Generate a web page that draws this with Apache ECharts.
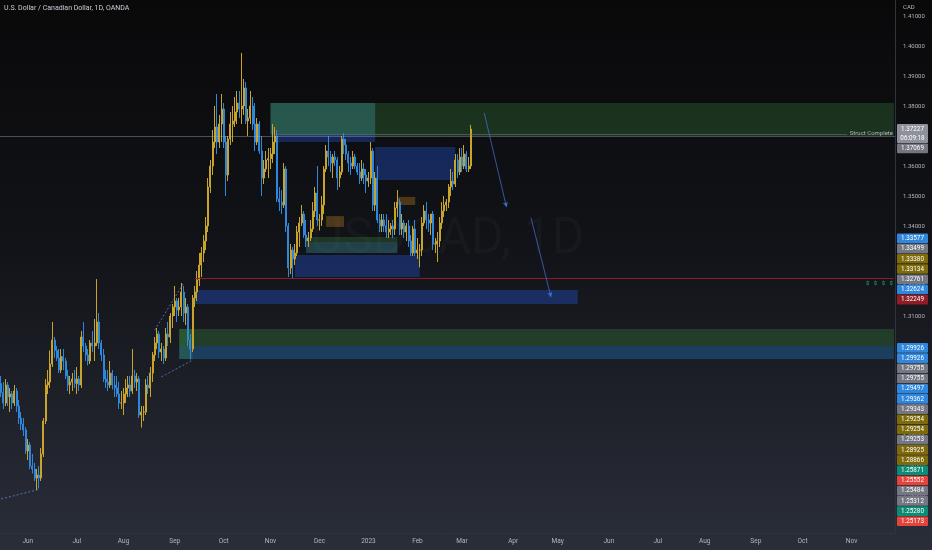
<!DOCTYPE html>
<html><head><meta charset="utf-8">
<script src="https://cdn.jsdelivr.net/npm/echarts@6/dist/echarts.min.js"></script>
<style>html,body{margin:0;padding:0;background:#0a0a0b;}#c{width:932px;height:550px;}</style>
</head><body><div id="c"></div>
<script>
// ---------- data (USD/CAD daily, OANDA) ----------
const firstDay = '2022-05-16';
const lastDay = '2023-11-28';
const open = [1.2875,1.2845,1.2810,1.2870,1.2830,1.2840,1.2810,1.2850,1.2800,1.2760,1.2740,1.2720,1.2650,1.2670,1.2600,1.2590,1.2560,1.2570,1.2560,1.2640,
1.2750,1.2870,1.2880,1.2940,1.3020,1.2985,1.2960,1.2920,1.2965,1.2950,1.2900,1.2870,1.2880,1.2890,1.2875,1.2890,1.2870,1.3030,1.3000,1.2970,
1.2950,1.3010,1.3000,1.3010,1.3080,1.3010,1.2970,1.2890,1.2880,1.2870,1.2910,1.2870,1.2860,1.2840,1.2810,1.2810,1.2840,1.2860,1.2870,1.2850,
1.2900,1.2880,1.2890,1.2770,1.2780,1.2780,1.2870,1.2860,1.2910,1.2970,1.3010,1.3040,1.2980,1.2990,1.2960,1.3040,1.3030,1.3100,1.3130,1.3150,
1.3120,1.3130,1.3180,1.3110,1.3130,1.3020,1.2990,1.3160,1.3180,1.3220,1.3270,1.3310,1.3350,1.3400,1.3530,1.3600,1.3680,1.3730,1.3680,1.3740,
1.3790,1.3680,1.3570,1.3690,1.3740,1.3750,1.3780,1.3810,1.3790,1.3800,1.3860,1.3750,1.3760,1.3800,1.3740,1.3680,1.3740,1.3650,1.3560,1.3590,
1.3620,1.3625,1.3640,1.3680,1.3700,1.3490,1.3480,1.3470,1.3590,1.3400,1.3260,1.3320,1.3290,1.3310,1.3380,1.3410,1.3440,1.3370,1.3350,1.3360,
1.3390,1.3450,1.3510,1.3420,1.3420,1.3470,1.3590,1.3650,1.3630,1.3610,1.3630,1.3620,1.3560,1.3580,1.3690,1.3670,1.3640,1.3610,1.3600,1.3630,
1.3600,1.3580,1.3560,1.3590,1.3570,1.3550,1.3560,1.3650,1.3470,1.3560,1.3420,1.3400,1.3420,1.3400,1.3380,1.3390,1.3400,1.3390,1.3460,1.3480,
1.3390,1.3410,1.3380,1.3400,1.3350,1.3310,1.3390,1.3310,1.3320,1.3320,1.3410,1.3450,1.3420,1.3410,1.3440,1.3340,1.3340,1.3350,1.3410,1.3450,
1.3470,1.3480,1.3530,1.3550,1.3540,1.3620,1.3580,1.3630,1.3600,1.3640,1.3590,1.3600];
const high = [1.2900,1.2880,1.2890,1.2880,1.2860,1.2850,1.2870,1.2860,1.2820,1.2780,1.2760,1.2730,1.2690,1.2680,1.2640,1.2610,1.2590,1.2600,1.2660,1.2760,
1.2890,1.2920,1.2985,1.3080,1.3030,1.3000,1.2990,1.2990,1.2990,1.2960,1.2920,1.2900,1.2910,1.2920,1.2930,1.2900,1.3050,1.3080,1.3010,1.2990,
1.3020,1.3050,1.3090,1.3223,1.3110,1.3020,1.2990,1.2920,1.2920,1.2950,1.2920,1.2900,1.2900,1.2880,1.2850,1.2860,1.2890,1.2900,1.2900,1.2990,
1.2920,1.2910,1.2900,1.2800,1.2800,1.2890,1.2900,1.2930,1.2980,1.3030,1.3060,1.3050,1.3010,1.3000,1.3060,1.3080,1.3110,1.3140,1.3200,1.3160,
1.3160,1.3210,1.3200,1.3160,1.3140,1.3040,1.3170,1.3200,1.3250,1.3310,1.3330,1.3370,1.3430,1.3560,1.3620,1.3720,1.3800,1.3840,1.3770,1.3840,
1.3810,1.3700,1.3700,1.3780,1.3800,1.3830,1.3850,1.3850,1.3977,1.3890,1.3880,1.3790,1.3850,1.3830,1.3810,1.3760,1.3750,1.3700,1.3620,1.3650,
1.3660,1.3660,1.3740,1.3730,1.3720,1.3530,1.3520,1.3610,1.3600,1.3410,1.3340,1.3330,1.3340,1.3400,1.3430,1.3470,1.3450,1.3420,1.3380,1.3420,
1.3480,1.3530,1.3600,1.3440,1.3500,1.3600,1.3670,1.3700,1.3650,1.3640,1.3650,1.3630,1.3600,1.3700,1.3710,1.3690,1.3650,1.3630,1.3650,1.3640,
1.3610,1.3610,1.3620,1.3610,1.3590,1.3580,1.3680,1.3660,1.3580,1.3600,1.3440,1.3440,1.3440,1.3440,1.3420,1.3410,1.3420,1.3480,1.3520,1.3490,
1.3440,1.3420,1.3410,1.3420,1.3370,1.3400,1.3420,1.3360,1.3340,1.3430,1.3470,1.3480,1.3440,1.3440,1.3450,1.3360,1.3380,1.3430,1.3480,1.3500,
1.3490,1.3540,1.3590,1.3580,1.3640,1.3640,1.3660,1.3660,1.3670,1.3650,1.3630,1.3737];
const low = [1.2830,1.2790,1.2800,1.2800,1.2780,1.2790,1.2800,1.2780,1.2740,1.2720,1.2700,1.2640,1.2620,1.2590,1.2575,1.2550,1.2520,1.2525,1.2550,1.2630,
1.2740,1.2840,1.2860,1.2930,1.2960,1.2950,1.2910,1.2910,1.2920,1.2890,1.2850,1.2840,1.2850,1.2860,1.2840,1.2850,1.2860,1.2980,1.2950,1.2935,
1.2940,1.2980,1.2950,1.3000,1.2990,1.2950,1.2880,1.2860,1.2850,1.2860,1.2855,1.2830,1.2830,1.2790,1.2790,1.2770,1.2810,1.2830,1.2830,1.2840,
1.2860,1.2850,1.2760,1.2728,1.2750,1.2770,1.2840,1.2830,1.2880,1.2950,1.2990,1.2960,1.2950,1.2940,1.2950,1.3000,1.3010,1.3060,1.3100,1.3080,
1.3100,1.3100,1.3080,1.3070,1.3000,1.2955,1.2980,1.3130,1.3150,1.3200,1.3230,1.3280,1.3320,1.3380,1.3510,1.3570,1.3660,1.3640,1.3660,1.3680,
1.3660,1.3500,1.3550,1.3670,1.3680,1.3730,1.3740,1.3760,1.3740,1.3770,1.3740,1.3700,1.3740,1.3720,1.3650,1.3670,1.3640,1.3500,1.3540,1.3580,
1.3560,1.3590,1.3610,1.3640,1.3480,1.3450,1.3440,1.3460,1.3380,1.3230,1.3240,1.3226,1.3270,1.3300,1.3330,1.3400,1.3360,1.3330,1.3330,1.3350,
1.3380,1.3430,1.3400,1.3385,1.3400,1.3440,1.3580,1.3600,1.3580,1.3560,1.3600,1.3520,1.3530,1.3570,1.3640,1.3620,1.3580,1.3570,1.3590,1.3590,
1.3570,1.3540,1.3550,1.3540,1.3510,1.3530,1.3540,1.3450,1.3450,1.3410,1.3380,1.3380,1.3380,1.3360,1.3360,1.3370,1.3360,1.3370,1.3430,1.3370,
1.3370,1.3360,1.3350,1.3330,1.3300,1.3300,1.3300,1.3290,1.3262,1.3300,1.3400,1.3390,1.3380,1.3370,1.3320,1.3310,1.3280,1.3330,1.3390,1.3430,
1.3450,1.3460,1.3500,1.3520,1.3530,1.3560,1.3570,1.3580,1.3590,1.3580,1.3580,1.3590];
const close = [1.2845,1.2810,1.2870,1.2830,1.2840,1.2810,1.2850,1.2800,1.2760,1.2740,1.2720,1.2650,1.2670,1.2600,1.2590,1.2560,1.2570,1.2560,1.2640,1.2750,
1.2870,1.2880,1.2940,1.3020,1.2985,1.2960,1.2920,1.2965,1.2950,1.2900,1.2870,1.2880,1.2890,1.2875,1.2890,1.2870,1.3030,1.3000,1.2970,1.2950,
1.3010,1.3000,1.3010,1.3080,1.3010,1.2970,1.2890,1.2880,1.2870,1.2910,1.2870,1.2860,1.2840,1.2810,1.2810,1.2840,1.2860,1.2870,1.2850,1.2900,
1.2880,1.2890,1.2770,1.2780,1.2780,1.2870,1.2860,1.2910,1.2970,1.3010,1.3040,1.2980,1.2990,1.2960,1.3040,1.3030,1.3100,1.3130,1.3150,1.3120,
1.3130,1.3180,1.3110,1.3130,1.3020,1.2990,1.3160,1.3180,1.3220,1.3270,1.3310,1.3350,1.3400,1.3530,1.3600,1.3680,1.3730,1.3680,1.3740,1.3790,
1.3680,1.3570,1.3690,1.3740,1.3750,1.3780,1.3810,1.3790,1.3800,1.3860,1.3750,1.3760,1.3800,1.3740,1.3680,1.3740,1.3650,1.3560,1.3590,1.3620,
1.3625,1.3640,1.3680,1.3700,1.3490,1.3480,1.3470,1.3590,1.3400,1.3260,1.3320,1.3290,1.3310,1.3380,1.3410,1.3440,1.3370,1.3350,1.3360,1.3390,
1.3450,1.3510,1.3420,1.3420,1.3470,1.3590,1.3650,1.3630,1.3610,1.3630,1.3620,1.3560,1.3580,1.3690,1.3670,1.3640,1.3610,1.3600,1.3630,1.3600,
1.3580,1.3560,1.3590,1.3570,1.3550,1.3560,1.3650,1.3470,1.3560,1.3420,1.3400,1.3420,1.3400,1.3380,1.3390,1.3400,1.3390,1.3460,1.3480,1.3390,
1.3410,1.3380,1.3400,1.3350,1.3310,1.3390,1.3310,1.3320,1.3320,1.3410,1.3450,1.3420,1.3410,1.3440,1.3340,1.3340,1.3350,1.3410,1.3450,1.3470,
1.3480,1.3530,1.3550,1.3540,1.3620,1.3580,1.3630,1.3600,1.3640,1.3590,1.3600,1.3723];
const priceTicks = [1.25,1.26,1.27,1.28,1.29,1.30,1.31,1.32,1.33,1.34,1.35,1.36,1.37,1.38,1.39,1.40,1.41];
const lastPrice = 1.37227;
const structPrice = 1.37069;
const redLevel = 1.32249;
const tagValues = [1.37227,1.37069,1.33577,1.33499,1.33380,1.33134,1.32761,1.32624,1.32249,1.29926,1.29926,1.29755,1.29755,1.29497,1.29362,1.29343,1.29254,1.29254,1.29253,1.28925,1.28866,1.25871,1.25552,1.25484,1.25312,1.25280,1.25173];
const tagKinds = ['last','grey','blue','grey','gold','gold','grey','blue','darkred','blue','blue','grey','grey','blue','blue','grey','gold','gold','grey','gold','gold','teal','red','grey','grey','teal','red'];
const monthNames = ['Jan','Feb','Mar','Apr','May','Jun','Jul','Aug','Sep','Oct','Nov','Dec'];
// drawings (zones) in date/price space
const zones = [
  ['2022-11-01', 'END', 1.3810, 1.3700, 'green'],
  ['2022-11-01', '2023-01-05', 1.3810, 1.3707, 'cyan'],
  ['2022-11-04', '2023-01-05', 1.3707, 1.3680, 'blue'],
  ['2023-01-05', '2023-02-24', 1.3663, 1.3553, 'blue'],
  ['2022-11-16', '2023-02-02', 1.3303, 1.3230, 'blue'],
  ['2022-11-23', '2023-01-19', 1.3363, 1.3347, 'green'],
  ['2022-11-23', '2023-01-19', 1.3347, 1.3310, 'cyan'],
  ['2022-12-06', '2022-12-16', 1.3433, 1.3397, 'orange'],
  ['2023-01-19', '2023-01-31', 1.3497, 1.3470, 'orange'],
  ['2022-09-14', '2023-05-12', 1.3187, 1.3140, 'blue'],
  ['2022-09-05', 'END', 1.3057, 1.3000, 'green'],
  ['2022-09-05', 'END', 1.3000, 1.2957, 'steel'],
  ['2022-09-05', '2022-09-13', 1.3057, 1.2957, 'green']
];
const arrows = [
  ['2023-03-15', 1.3777, '2023-03-29', 1.3463],
  ['2023-04-13', 1.3427, '2023-04-26', 1.3163]
];
const dashes = [
  ['2022-05-16', 1.2490, '2022-06-08', 1.2522],
  ['2022-08-24', 1.2897, '2022-09-13', 1.2953],
  ['2022-08-19', 1.3053, '2022-09-07', 1.3210]
];

// ---------- build ----------
function weekdays(a, b) {
  const out = []; const d = new Date(a + 'T00:00:00Z'); const e = new Date(b + 'T00:00:00Z');
  while (d <= e) { const w = d.getUTCDay(); if (w !== 0 && w !== 6) out.push(d.toISOString().slice(0, 10)); d.setUTCDate(d.getUTCDate() + 1); }
  return out;
}
const dates = weekdays(firstDay, lastDay);
const END = dates[dates.length - 1];
const candles = open.map((o, i) => [o, close[i], low[i], high[i]]);

const zoneColors = {
  green: 'rgba(67,160,71,0.26)',
  cyan: 'rgba(77,182,200,0.28)',
  blue: 'rgba(41,98,255,0.30)',
  orange: 'rgba(255,167,38,0.26)',
  steel: 'rgba(33,150,243,0.28)'
};
const tagColors = { last: '#8e9199', grey: '#747781', blue: '#2f86dc', gold: '#7e6a0b', darkred: '#8f1d26', teal: '#0c8b76', red: '#e2433a' };

const chart = echarts.init(document.getElementById('c'), null, { renderer: 'canvas', width: 932, height: 550 });
const FONT = 'Roboto, "Noto Sans", sans-serif';

const option = {
  animation: false,
  backgroundColor: { type: 'linear', x: 0, y: 0, x2: 0, y2: 1, colorStops: [
    { offset: 0, color: '#09090a' }, { offset: 0.45, color: '#121318' }, { offset: 1, color: '#2a2e39' }] },
  grid: { left: 0, right: 37, top: 0, bottom: 17 },
  xAxis: {
    type: 'category', data: dates, boundaryGap: true,
    axisLine: { show: true, lineStyle: { color: '#30343f' } },
    axisTick: { show: false },
    splitLine: { show: false },
    axisLabel: {
      color: '#b2b5be', fontSize: 6.5, fontFamily: FONT, margin: 5,
      interval: (i, v) => i > 0 && v.slice(0, 7) !== dates[i - 1].slice(0, 7),
      formatter: v => { const m = +v.slice(5, 7); return m === 1 ? v.slice(0, 4) : monthNames[m - 1]; }
    }
  },
  yAxis: {
    type: 'value', position: 'right',
    min: 1.30 - 187 / 3000, max: 1.30 + 346 / 3000,
    axisLine: { show: true, lineStyle: { color: '#30343f' } },
    axisTick: { show: false },
    splitLine: { show: false },
    axisLabel: { color: '#b2b5be', fontSize: 6, fontFamily: FONT, margin: 8, customValues: priceTicks, formatter: v => v.toFixed(5) }
  },
  series: [
    {
      type: 'line', data: [], silent: true, z: 1,
      markArea: { silent: true, data: zones.map(z => [
        { xAxis: z[0] === 'END' ? END : z[0], yAxis: z[2], itemStyle: { color: zoneColors[z[4]] } },
        { xAxis: z[1] === 'END' ? END : z[1], yAxis: z[3] }]) }
    },
    {
      type: 'candlestick', data: candles, barWidth: 1.5, z: 2,
      itemStyle: { color: '#c9a42b', color0: '#2e87da', borderColor: '#c9a42b', borderColor0: '#2e87da', borderWidth: 1 }
    },
    {
      type: 'line', data: [], silent: true, z: 3,
      markLine: {
        silent: true, symbol: 'none', label: { show: false },
        data: [
          { yAxis: lastPrice, lineStyle: { color: 'rgba(170,172,180,0.40)', width: 1, type: 'solid' } },
          [{ coord: ['2022-11-02', structPrice], lineStyle: { color: 'rgba(120,123,134,0.50)', width: 1, type: 'solid' } },
           { coord: [dates[dates.length - 22], structPrice] }],
          [{ coord: ['2022-09-14', redLevel], lineStyle: { color: 'rgba(150,30,45,0.9)', width: 1, type: 'solid' } }, { coord: [END, redLevel] }],
          ...arrows.map(a => [
            { coord: [a[0], a[1]], symbol: 'none', lineStyle: { color: 'rgba(70,120,225,0.85)', width: 0.8, type: 'solid' } },
            { coord: [a[2], a[3]], symbol: 'arrow', symbolSize: [4, 5] }]),
          ...dashes.map(d => [
            { coord: [d[0], d[1]], lineStyle: { color: 'rgba(110,140,240,0.7)', width: 1, type: [2, 2] } },
            { coord: [d[2], d[3]] }])
        ]
      }
    }
  ]
};
chart.setOption(option);

// ---------- overlay: tags, texts ----------
const py = v => chart.convertToPixel({ yAxisIndex: 0 }, v);
const plotRight = 932 - 37;
const g = [];
g.push({ type: 'text', z: 0, silent: true, style: { text: 'USDCAD, 1D', x: plotRight / 2, y: 240, align: 'center', verticalAlign: 'middle',
  fill: 'rgba(150,155,170,0.045)', fontSize: 50, fontFamily: FONT } });
g.push({ type: 'rect', z: 90, shape: { x: plotRight + 1, y: 0, width: 36, height: 12 }, style: { fill: '#09090a' } });
g.push({ type: 'text', z: 91, style: { text: 'CAD', x: plotRight + 8, y: 7, verticalAlign: 'middle', fill: '#b2b5be', fontSize: 6, fontFamily: FONT } });
g.push({ type: 'text', z: 91, style: { text: 'U.S. Dollar / Canadian Dollar, 1D, OANDA', x: 4, y: 8, verticalAlign: 'middle', fill: '#c9ccd4', fontSize: 7, fontFamily: FONT } });
g.push({ type: 'text', z: 91, style: { text: 'Struct Complete', x: plotRight - 2, y: py(structPrice) - 0.5, align: 'right', verticalAlign: 'middle', fill: '#b2b5be', fontSize: 6, fontFamily: FONT } });
g.push({ type: 'text', z: 91, style: { text: '$   $   $   $', x: plotRight - 29, y: py(1.3207), verticalAlign: 'middle', fill: '#1fa37f', fontSize: 6, fontFamily: FONT } });
let prevBottom = -1e9;
tagValues.forEach((v, i) => {
  const kind = tagKinds[i];
  const h = kind === 'last' ? 19.5 : 10.2;
  const top = Math.max(py(v) - 5.1, prevBottom);
  prevBottom = top + h;
  g.push({ type: 'rect', z: 95, shape: { x: plotRight + 2, y: top, width: 31, height: h - 0.6, r: 1 }, style: { fill: tagColors[kind] } });
  g.push({ type: 'text', z: 96, style: { text: v.toFixed(5), x: plotRight + 17.5, y: top + 5, align: 'center', verticalAlign: 'middle', fill: '#ffffff', fontSize: 6.3, fontFamily: FONT } });
  if (kind === 'last') {
    g.push({ type: 'text', z: 96, style: { text: '06:09:18', x: plotRight + 17.5, y: top + 14.5, align: 'center', verticalAlign: 'middle', fill: '#ffffff', fontSize: 6.3, fontFamily: FONT } });
  }
});
chart.setOption({ graphic: g });
</script>
</body></html>
